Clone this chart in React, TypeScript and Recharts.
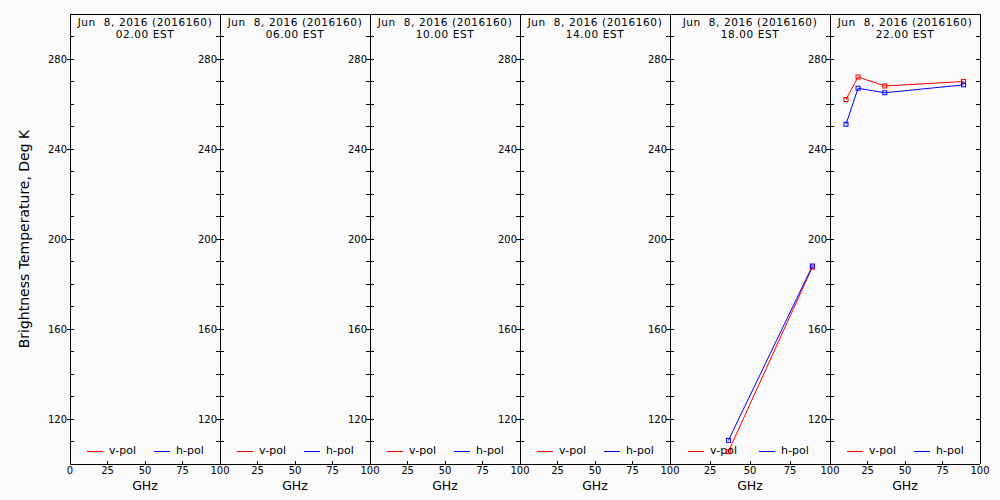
import React from "react";
import { LineChart, Line, XAxis, YAxis } from "recharts";

const DATE_LABEL = "Jun  8, 2016 (2016160)";
const HOURS = ["02.00 EST", "06.00 EST", "10.00 EST", "14.00 EST", "18.00 EST", "22.00 EST"];
const X_TICKS_FIRST = [0, 25, 50, 75, 100];
const X_TICKS_REST = [25, 50, 75, 100];
const Y_TICKS = [110, 120, 130, 140, 150, 160, 170, 180, 190, 200, 210, 220, 230, 240, 250, 260, 270, 280, 290];
const Y_LABELS = [120, 160, 200, 240, 280];

// radiometer channels, GHz (no retrievals in the empty passes)
const CHANNELS = [10.65, 18.7, 36.5, 89.0];

// 18.00 EST pass
const FREQ_18 = [36.5, 89.0];
const VPOL_18 = [105.5, 187.5];
const HPOL_18 = [110.5, 188.0];

// 22.00 EST pass
const FREQ_22 = [10.65, 18.7, 36.5, 89.0];
const VPOL_22 = [262, 272, 268, 270];
const HPOL_22 = [251, 267, 265, 268.5];

const SERIES = [
    { key: "v", name: "v-pol", color: "#ff0000" },
    { key: "h", name: "h-pol", color: "#0000ff" },
];

const FONT = "'DejaVu Sans', sans-serif";
const EDGES = [70, 220, 370, 520, 670, 830, 980];
const ML = 70;
const MR = 10;

const rows = (f: number[], v: number[], h: number[]) => f.map((ghz, i) => ({ ghz, v: v[i], h: h[i] }));
const empty = CHANNELS.map((ghz) => ({ ghz, v: null, h: null }));
const PANEL_DATA: any[][] = [empty, empty, empty, empty, rows(FREQ_18, VPOL_18, HPOL_18), rows(FREQ_22, VPOL_22, HPOL_22)];

const YTick = ({ x, y, payload }: any) => {
    const major = Y_LABELS.includes(payload.value);
    return (
        <g>
            <line x1={major ? x - 3 : x} x2={x + 4} y1={y} y2={y} stroke="#000" shapeRendering="crispEdges" />
            {major && (
                <text x={x - 3} y={y + 3.5} textAnchor="end" fontSize={10} fontFamily={FONT} fill="#000">{payload.value}</text>
            )}
        </g>
    );
};

const RTick = ({ x, y }: any) => (
    <line x1={x - 4} x2={x} y1={y} y2={y} stroke="#000" shapeRendering="crispEdges" />
);

const XTick = ({ x, y, payload }: any) => (
    <g>
        {payload.value % 100 !== 0 && <line x1={x} x2={x} y1={y - 3} y2={y} stroke="#000" shapeRendering="crispEdges" />}
        <text x={x} y={y + 10} textAnchor="middle" fontSize={10} fontFamily={FONT} fill="#000">{payload.value}</text>
    </g>
);

const TopTick = ({ x, y }: any) => (
    <line x1={x} x2={x} y1={y} y2={y + 5} stroke="#000" shapeRendering="crispEdges" />
);

const TitleLabel = ({ viewBox, hour }: any) => {
    const cx = viewBox.x + viewBox.width / 2;
    const top = viewBox.y + viewBox.height;
    return (
        <g fontFamily={FONT} fontSize={10.5} fill="#000" letterSpacing={0.6}>
            <text x={cx} y={top + 11.5} textAnchor="middle" style={{ whiteSpace: "pre" }}>{DATE_LABEL}</text>
            <text x={cx} y={top + 23.5} textAnchor="middle">{hour}</text>
        </g>
    );
};

// axis title plus the v-pol / h-pol key that sits just above the axis
const BottomLabel = ({ viewBox }: any) => {
    const w = viewBox.width;
    const lx = Math.round(viewBox.x + (17 * w) / 150);
    const ly = viewBox.y - 13;
    return (
        <g fontFamily={FONT} fill="#000">
            <text x={viewBox.x + w / 2} y={viewBox.y + 26} textAnchor="middle" fontSize={12.5}>GHz</text>
            {SERIES.map((s, i) => {
                const x0 = lx + Math.round((i * 67 * w) / 150);
                return (
                    <g key={s.key}>
                        <line x1={x0} x2={x0 + 16} y1={ly + 0.5} y2={ly + 0.5} stroke={s.color} strokeWidth={1} />
                        <text x={x0 + 22} y={ly + 3} fontSize={11}>{s.name}</text>
                    </g>
                );
            })}
        </g>
    );
};

const YTitle = ({ viewBox }: any) => {
    const x = viewBox.x + viewBox.width - 41;
    const y = viewBox.y + viewBox.height / 2;
    return (
        <text x={x} y={y} transform={`rotate(-90, ${x}, ${y})`} textAnchor="middle" fontSize={14} fontFamily={FONT} fill="#000">
            Brightness Temperature, Deg K
        </text>
    );
};

const squareDot = (color: string) => (p: any) => {
    const key = `${p.index}-${p.cx}`;
    if (p.cy == null || p.value == null) return <g key={key} />;
    return <rect key={key} x={p.cx - 2} y={p.cy - 2} width={4} height={4} fill="none" stroke={color} strokeWidth={1} />;
};

const AXIS_LINE = { stroke: "#000", shapeRendering: "crispEdges" };

function Panel({ index }: { index: number }) {
    const left = EDGES[index];
    const w = EDGES[index + 1] - left;
    return (
        <div style={{ position: "absolute", left: left - ML, top: 0 }}>
            <LineChart width={w + ML + MR} height={500} data={PANEL_DATA[index]}
                margin={{ top: 13, right: MR - 1, bottom: 35, left: ML - 1 }} style={{ overflow: "visible" }}>
                <XAxis xAxisId="b" dataKey="ghz" type="number" domain={[0, 100]} allowDataOverflow
                    ticks={index === 0 ? X_TICKS_FIRST : X_TICKS_REST} interval={0}
                    height={1} tickSize={0} tickMargin={0} tickLine={false} tick={<XTick />}
                    axisLine={AXIS_LINE} label={<BottomLabel />} />
                <XAxis xAxisId="t" orientation="top" type="number" domain={[0, 100]} allowDataOverflow
                    ticks={[25, 50, 75]} interval={0}
                    height={1} tickSize={0} tickMargin={0} tickLine={false} tick={<TopTick />}
                    axisLine={AXIS_LINE} label={<TitleLabel hour={HOURS[index]} />} />
                <YAxis yAxisId="l" type="number" domain={[100, 300]} allowDataOverflow ticks={Y_TICKS} interval={0}
                    width={1} tickSize={0} tickMargin={0} tickLine={false} tick={<YTick />}
                    axisLine={AXIS_LINE} label={index === 0 ? <YTitle /> : undefined} />
                <YAxis yAxisId="r" orientation="right" type="number" domain={[100, 300]} allowDataOverflow
                    ticks={Y_TICKS} interval={0}
                    width={1} tickSize={0} tickMargin={0} tickLine={false} tick={<RTick />}
                    axisLine={AXIS_LINE} />
                {SERIES.map((s) => (
                    <Line key={s.key} xAxisId="b" yAxisId="l" dataKey={s.key} name={s.name} stroke={s.color} strokeWidth={1}
                        dot={squareDot(s.color)} activeDot={false} isAnimationActive={false} />
                ))}
            </LineChart>
        </div>
    );
}

export default function App() {
    return (
        <div style={{ position: "absolute", left: 0, top: 0, width: 1000, height: 500, background: "#fafafa", overflow: "hidden" }}>
            {HOURS.map((h, i) => <Panel key={h} index={i} />)}
        </div>
    );
}
